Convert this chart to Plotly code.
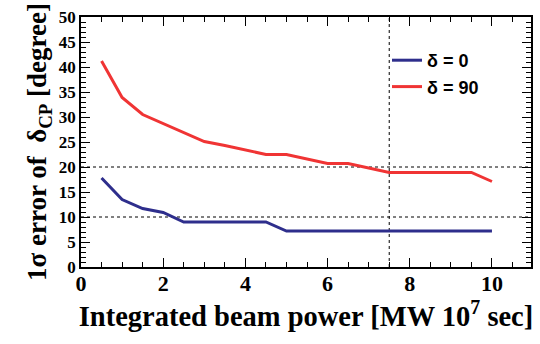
import plotly.graph_objects as go

power = [0.5, 1, 1.5, 2, 2.5, 3, 3.5, 4, 4.5, 5, 5.5, 6, 6.5, 7, 7.5, 8, 8.5, 9, 9.5, 10]
err_delta0 = [17.8, 13.5, 11.7, 10.9, 9.0, 9.0, 9.0, 9.0, 9.0, 7.2, 7.2, 7.2, 7.2, 7.2, 7.2, 7.2, 7.2, 7.2, 7.2, 7.2]
err_delta90 = [41.2, 33.9, 30.5, 28.7, 26.9, 25.1, 24.3, 23.4, 22.5, 22.5, 21.6, 20.7, 20.7, 19.8, 18.9, 18.9, 18.9, 18.9, 18.9, 17.1]
names = ["δ = 0", "δ = 90"]
colors = ["#2e2e8c", "#f03434"]

fig = go.Figure()
for name, ys, c in zip(names, [err_delta0, err_delta90], colors):
    fig.add_trace(go.Scatter(x=power, y=ys, mode="lines", name=name,
                             line=dict(color=c, width=3)))

# dotted reference lines
for yv in [10, 20]:
    fig.add_hline(y=yv, line=dict(color="black", width=1, dash="dot"), layer="below")
fig.add_vline(x=7.5, line=dict(color="black", width=1, dash="dot"), layer="below")

serif = "Liberation Serif"
fig.update_layout(
    width=540, height=344,
    margin=dict(l=81, r=9, t=17, b=77),
    plot_bgcolor="white", paper_bgcolor="white",
    showlegend=True,
    legend=dict(x=0.68, y=0.90, xanchor="left", yanchor="top",
                font=dict(family="Liberation Sans", size=18, color="black", weight="bold"),
                bgcolor="rgba(255,255,255,0)", itemwidth=30, tracegroupgap=12),
    font=dict(family=serif, color="black"),
)
fig.update_xaxes(
    range=[0, 10.95], dtick=2, tick0=0, showgrid=False, zeroline=False,
    automargin=False,
    ticks="inside", ticklen=9, tickwidth=1, tickcolor="black",
    minor=dict(dtick=0.5, ticks="inside", ticklen=5, tickcolor="black", showgrid=False),
    showline=True, linecolor="black", linewidth=1.5, mirror="ticks",
    tickfont=dict(family=serif, size=22, weight="bold"), ticklabelstandoff=-4,
    title=dict(text="Integrated beam power [MW 10<sup>7</sup> sec]",
               font=dict(family=serif, size=28.5, weight="bold"), standoff=0),
)
fig.update_yaxes(
    range=[0, 50], dtick=5, tick0=0, showgrid=False, zeroline=False,
    automargin=False,
    ticks="inside", ticklen=9, tickwidth=1, tickcolor="black",
    minor=dict(dtick=1, ticks="inside", ticklen=5, tickcolor="black", showgrid=False),
    showline=True, linecolor="black", linewidth=1.5, mirror="ticks",
    tickfont=dict(family=serif, size=17, weight="bold"),
    title=dict(text="1σ error of  δ<sub>CP</sub> [degree]",
               font=dict(family=serif, size=27, weight="bold"), standoff=4),
)

fig.write_html("out.html", config={"displayModeBar": False},
               post_script="document.body.style.margin='0';")
